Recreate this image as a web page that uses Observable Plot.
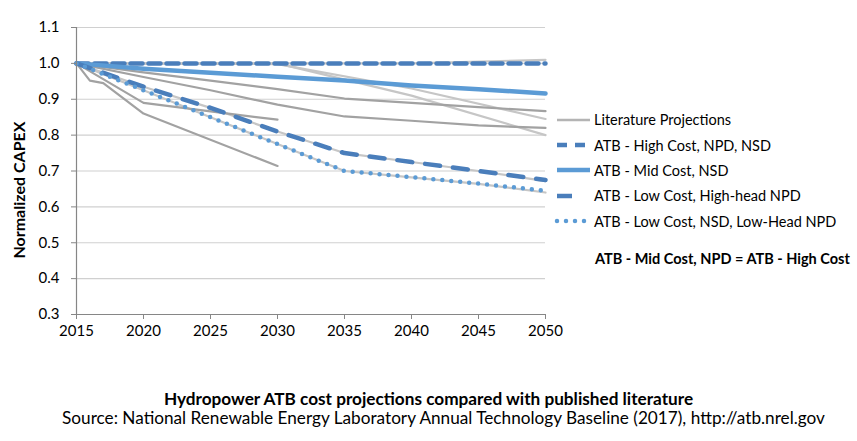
<!DOCTYPE html>
<html>
<head>
<meta charset="utf-8">
<script src="https://cdn.jsdelivr.net/npm/d3@7"></script>
<script src="https://cdn.jsdelivr.net/npm/@observablehq/plot@0.6"></script>
<style>
  body { margin: 0; background: #fff; }
  #root { position: relative; width: 857px; height: 441px; background: #fff; font-family: Lato, "Open Sans", sans-serif; color: #000; overflow: hidden; }
  #plot { position: absolute; left: 0; top: 0; }
  .ylab { position: absolute; left: 18px; top: 190px; transform: translate(-50%, -50%) rotate(-90deg); font-weight: bold; font-size: 16px; white-space: nowrap; }
  .leg { position: absolute; left: 553px; top: 107px; font-size: 14.5px; }
  .row { display: flex; align-items: center; height: 25.4px; }
  .row svg { margin-right: 3px; }
  .note { position: absolute; left: 595px; top: 250px; font-size: 14.5px; font-weight: bold; white-space: nowrap; }
  .title { position: absolute; left: 0; width: 857px; top: 388px; text-align: center; font-size: 17.2px; font-weight: bold; }
  .source { position: absolute; left: 0; width: 887px; top: 407px; text-align: center; font-size: 17.2px; }
</style>
</head>
<body>
<div id="root">
  <div id="plot"></div>
  <div class="ylab">Normalized CAPEX</div>
  <div class="leg" id="leg"></div>
  <div class="note" id="note"></div>
  <div class="title" id="title"></div>
  <div class="source" id="source"></div>
</div>
<script>
// ---------- Data ----------
const xTicks = [2015, 2020, 2025, 2030, 2035, 2040, 2045, 2050];
const yTicks = [0.3, 0.4, 0.5, 0.6, 0.7, 0.8, 0.9, 1.0, 1.1];

// Literature projections (year, normalized CAPEX)
const litYearsA = [2015, 2016, 2017, 2020, 2030];
const litValsA  = [1.0, 0.952, 0.945, 0.86, 0.714];
const litYearsB = [2015, 2020, 2025, 2030];
const litValsB  = [1.0, 0.89, 0.866, 0.843];
const litYearsC = [2015, 2020, 2025, 2030, 2035, 2040, 2045, 2050];
const litValsC  = [1.0, 0.975, 0.952, 0.928, 0.902, 0.89, 0.878, 0.867];
const litYearsD = [2015, 2020, 2025, 2030, 2035, 2040, 2045, 2050];
const litValsD  = [1.0, 0.962, 0.925, 0.885, 0.852, 0.84, 0.827, 0.82];
const litYearsE = [2015, 2030, 2040, 2050];
const litValsE  = [1.0, 1.0, 0.91, 0.80];
const litYearsF = [2015, 2030, 2040, 2050];
const litValsF  = [1.0, 0.998, 0.93, 0.845];
const litYearsG = [2015, 2040, 2050];
const litValsG  = [1.0, 1.0, 1.01];
const litYearsH = [2015, 2020, 2025, 2030, 2035, 2040, 2045, 2050];
const litValsH  = [1.0, 0.935, 0.876, 0.81, 0.75, 0.725, 0.70, 0.672];
const litYearsI = [2015, 2020, 2025, 2030, 2035, 2040, 2045, 2050];
const litValsI  = [1.0, 0.925, 0.85, 0.775, 0.70, 0.682, 0.664, 0.64];

// ATB scenarios
const atbYears    = [2015, 2020, 2025, 2030, 2035, 2040, 2045, 2050];
const atbHigh     = [1.0, 1.0, 1.0, 1.0, 1.0, 1.0, 1.0, 1.0];
const atbMid      = [1.0, 0.985, 0.974, 0.963, 0.952, 0.938, 0.928, 0.916];
const atbLowHH    = [1.0, 0.935, 0.876, 0.81, 0.75, 0.725, 0.70, 0.675];
const atbLowNSD   = [1.0, 0.925, 0.85, 0.775, 0.70, 0.683, 0.665, 0.645];

const legendLabels = [
  "Literature Projections",
  "ATB - High Cost, NPD, NSD",
  "ATB - Mid Cost, NSD",
  "ATB - Low Cost, High-head NPD",
  "ATB - Low Cost, NSD, Low-Head NPD"
];
const noteText = "ATB - Mid Cost, NPD = ATB - High Cost";
const titleText = "Hydropower ATB cost projections compared with published literature";
const sourceText = "Source:  National Renewable Energy Laboratory Annual Technology Baseline (2017), http://atb.nrel.gov";

// ---------- Build tables ----------
const zip = (xs, ys, name) => xs.map((x, i) => ({year: x, value: ys[i], series: name}));
const litDark = [
  ...zip(litYearsA, litValsA, "A"),
  ...zip(litYearsB, litValsB, "B"),
  ...zip(litYearsC, litValsC, "C"),
  ...zip(litYearsD, litValsD, "D")
];
const litLight = [
  ...zip(litYearsE, litValsE, "E"),
  ...zip(litYearsF, litValsF, "F"),
  ...zip(litYearsG, litValsG, "G"),
  ...zip(litYearsH, litValsH, "H"),
  ...zip(litYearsI, litValsI, "I")
];
const high = zip(atbYears, atbHigh, "high");
const mid = zip(atbYears, atbMid, "mid");
const lowHH = zip(atbYears, atbLowHH, "lowHH");
const lowNSD = zip(atbYears, atbLowNSD, "lowNSD");

const cDark = "#4a7ebb", cLight = "#5b9bd5";

const chart = Plot.plot({
  width: 857,
  height: 345,
  marginLeft: 76,
  marginRight: 312,
  marginTop: 27,
  marginBottom: 31,
  style: {fontFamily: "Lato, 'Open Sans', sans-serif", fontSize: "15px", color: "#000", background: "#fff"},
  x: {domain: [2015, 2050]},
  y: {domain: [0.3, 1.1]},
  marks: [
    Plot.gridY(yTicks, {stroke: "#d0d0d0", strokeOpacity: 1, strokeWidth: 1.2}),
    Plot.line(litLight, {x: "year", y: "value", z: "series", stroke: "#c6c6c6", strokeWidth: 2.2}),
    Plot.line(litDark, {x: "year", y: "value", z: "series", stroke: "#a2a2a2", strokeWidth: 2.2}),
    Plot.line(high, {x: "year", y: "value", stroke: cDark, strokeWidth: 4.5, strokeDasharray: "12,6"}),
    Plot.line(mid, {x: "year", y: "value", stroke: cLight, strokeWidth: 4.5}),
    Plot.line(lowHH, {x: "year", y: "value", stroke: cDark, strokeWidth: 4.5, strokeDasharray: "15,13"}),
    Plot.line(lowNSD, {x: "year", y: "value", stroke: cLight, strokeWidth: 4.5, strokeDasharray: "0,9", strokeLinecap: "round"}),
    Plot.ruleX([2015], {stroke: "#868686", strokeWidth: 1.2}),
    Plot.ruleY([0.3], {stroke: "#868686", strokeWidth: 1.2}),
    Plot.axisY(yTicks, {tickFormat: d3.format(".1f"), tickSize: 5, tickPadding: 12, stroke: "#868686", label: null, fontSize: 15}),
    Plot.axisX(xTicks, {tickFormat: d => String(d), tickSize: 5, tickPadding: 6, stroke: "#868686", label: null, fontSize: 15})
  ]
});
document.getElementById("plot").appendChild(chart);

// ---------- Legend ----------
const legendStyles = [
  {stroke: "#b4b4b4", width: 2.5, dash: null, cap: "butt"},
  {stroke: cDark, width: 4.5, dash: "10,8", cap: "butt"},
  {stroke: cLight, width: 4.5, dash: null, cap: "butt"},
  {stroke: cDark, width: 4.5, dash: "15,18", cap: "butt"},
  {stroke: cLight, width: 4.5, dash: "0,9", cap: "round"}
];
const leg = d3.select("#leg");
legendLabels.forEach((lab, i) => {
  const s = legendStyles[i];
  const row = leg.append("div").attr("class", "row");
  const svg = row.append("svg").attr("width", 38).attr("height", 10);
  svg.append("line").attr("x1", 4).attr("x2", 37).attr("y1", 5).attr("y2", 5)
    .attr("stroke", s.stroke).attr("stroke-width", s.width)
    .attr("stroke-dasharray", s.dash).attr("stroke-linecap", s.cap);
  row.append("span").text(lab);
});
d3.select("#note").text(noteText);
d3.select("#title").text(titleText);
d3.select("#source").text(sourceText);
</script>
</body>
</html>
